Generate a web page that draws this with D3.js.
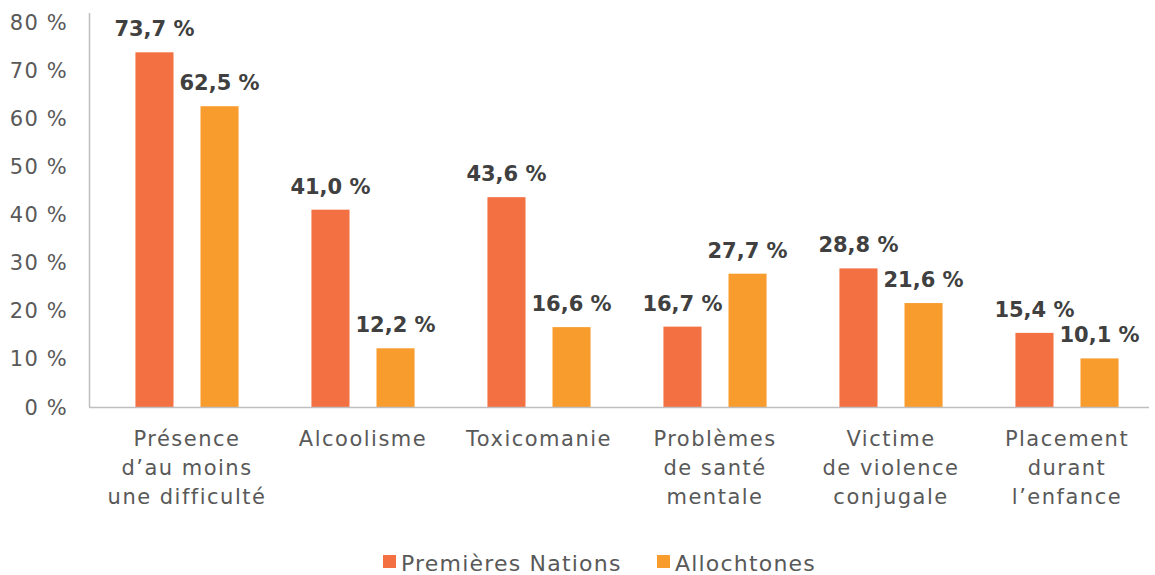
<!DOCTYPE html>
<html>
<head>
<meta charset="utf-8">
<script src="https://cdn.jsdelivr.net/npm/d3@7"></script>
<style>
  body { margin: 0; background: #fff; }
  text { font-family: "DejaVu Sans", sans-serif; }
</style>
</head>
<body>
<div id="chart"></div>
<script>
var categories = [
  ["Présence", "d’au moins", "une difficulté"],
  ["Alcoolisme"],
  ["Toxicomanie"],
  ["Problèmes", "de santé", "mentale"],
  ["Victime", "de violence", "conjugale"],
  ["Placement", "durant", "l’enfance"]
];
var seriesNames = ["Premières Nations", "Allochtones"];
var premieresNations = [73.7, 41.0, 43.6, 16.7, 28.8, 15.4];
var allochtones = [62.5, 12.2, 16.6, 27.7, 21.6, 10.1];
var yTicks = [0, 10, 20, 30, 40, 50, 60, 70, 80];
var colors = ["#F37043", "#F89D2D"];

var svgWidth = 1155;
var svgHeight = 575;
var margin = { top: 22, right: 10, bottom: 168, left: 89 };
var width = svgWidth - margin.left - margin.right;
var height = svgHeight - margin.top - margin.bottom;

var svg = d3.select("#chart")
  .append("svg")
  .attr("width", svgWidth)
  .attr("height", svgHeight);

var chartGroup = svg.append("g")
  .attr("transform", `translate(${margin.left}, ${margin.top})`);

var fmt = v => v.toFixed(1).replace(".", ",") + " %";

var data = categories.map((c, i) => ({
  lines: c,
  values: [premieresNations[i], allochtones[i]]
}));

var x0 = d3.scaleBand()
  .domain(d3.range(categories.length))
  .range([10, 1066])
  .padding(0);

var x1 = d3.scaleBand()
  .domain(d3.range(seriesNames.length))
  .range([0, x0.bandwidth()])
  .paddingInner(0.415)
  .paddingOuter(0.56);

var y = d3.scaleLinear()
  .domain([0, 80])
  .range([height, 0]);

// y tick labels
chartGroup.selectAll(".ytick")
  .data(yTicks)
  .enter()
  .append("text")
  .attr("x", -21)
  .attr("y", d => y(d))
  .attr("dy", "0.36em")
  .attr("text-anchor", "end")
  .attr("font-size", 21)
  .attr("letter-spacing", 1.2)
  .attr("fill", "#595959")
  .text(d => d + " %");

// bars
var groups = chartGroup.selectAll(".group")
  .data(data)
  .enter()
  .append("g")
  .attr("transform", (d, i) => `translate(${x0(i)}, 0)`);

groups.selectAll("rect")
  .data(d => d.values)
  .enter()
  .append("rect")
  .attr("x", (d, j) => x1(j))
  .attr("y", d => y(d))
  .attr("width", x1.bandwidth())
  .attr("height", d => height - y(d))
  .attr("fill", (d, j) => colors[j]);

groups.selectAll(".val")
  .data(d => d.values)
  .enter()
  .append("text")
  .attr("x", (d, j) => x1(j) + x1.bandwidth() / 2)
  .attr("y", d => y(d) - 16)
  .attr("text-anchor", "middle")
  .attr("font-size", 21)
  .attr("font-weight", "bold")
  .attr("fill", "#404040")
  .text(fmt);

// axes lines
chartGroup.append("line")
  .attr("x1", 0.5).attr("x2", 0.5)
  .attr("y1", -9).attr("y2", height)
  .attr("stroke", "#bfbfbf")
  .attr("stroke-width", 1.5);

chartGroup.append("line")
  .attr("x1", 0).attr("x2", 1060)
  .attr("y1", height + 0.5).attr("y2", height + 0.5)
  .attr("stroke", "#bfbfbf")
  .attr("stroke-width", 1.5);

// category labels
var catText = chartGroup.selectAll(".cat")
  .data(data)
  .enter()
  .append("text")
  .attr("text-anchor", "middle")
  .attr("font-size", 21)
  .attr("letter-spacing", 1.5)
  .attr("fill", "#595959")
  .attr("transform", (d, i) => `translate(${x0(i) + x0.bandwidth() / 2}, ${height + 39})`);

catText.selectAll("tspan")
  .data(d => d.lines)
  .enter()
  .append("tspan")
  .attr("x", 0)
  .attr("y", (d, k) => k * 29)
  .text(d => d);

// legend
var legend = svg.append("g")
  .attr("transform", "translate(0, 563)");

var legendX = [383, 657];
seriesNames.forEach(function(name, j) {
  legend.append("rect")
    .attr("x", legendX[j])
    .attr("y", -8)
    .attr("width", 13)
    .attr("height", 13)
    .attr("fill", colors[j]);
  legend.append("text")
    .attr("x", legendX[j] + 18)
    .attr("y", 0)
    .attr("dy", "0.36em")
    .attr("font-size", 22)
    .attr("letter-spacing", 1.2)
    .attr("fill", "#595959")
    .text(name);
});
</script>
</body>
</html>
